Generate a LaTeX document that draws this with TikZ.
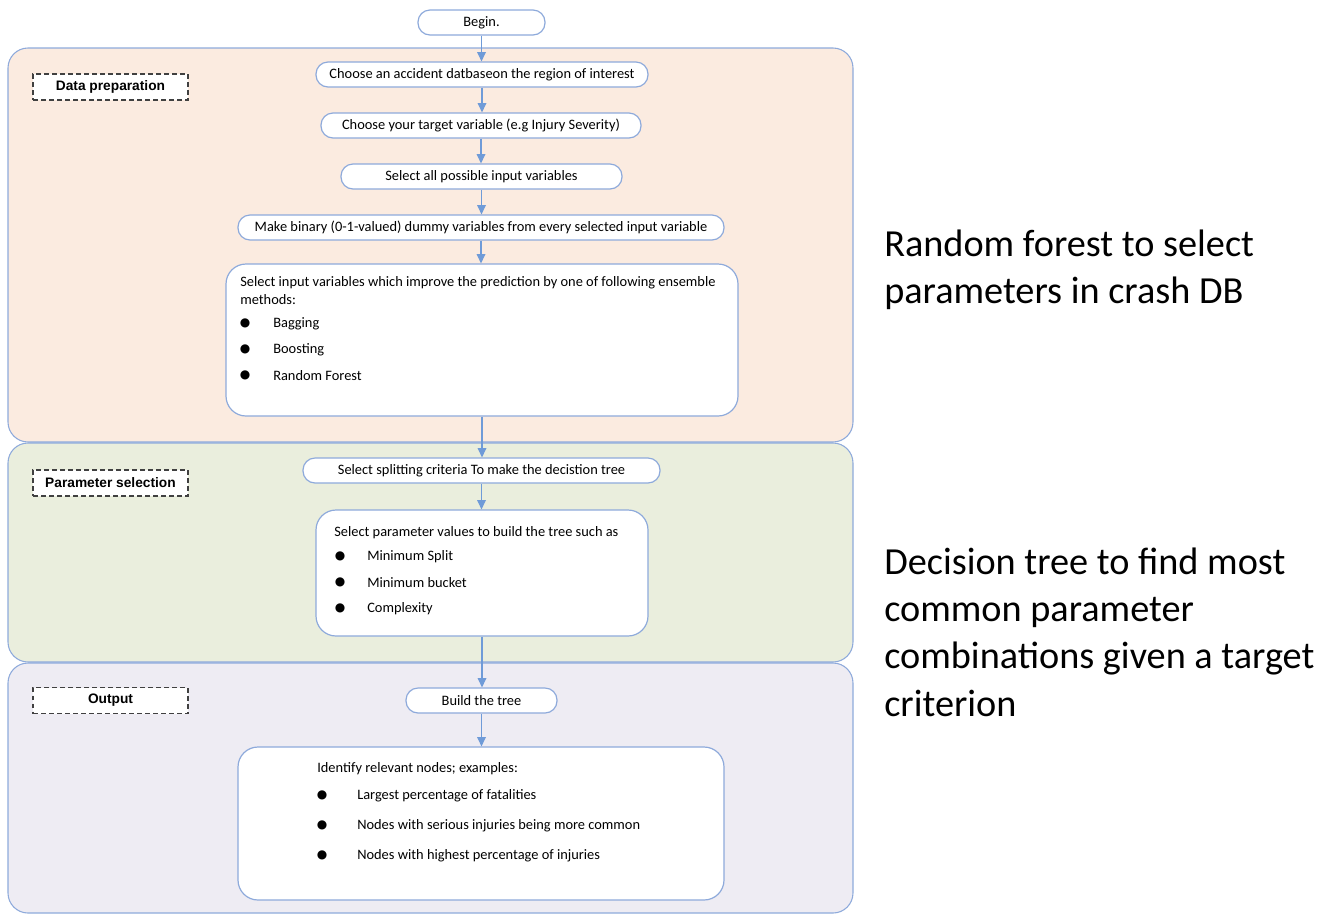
\documentclass[tikz,border=0pt]{standalone}
\usepackage{fontspec}
\setmainfont{Carlito}
\newfontfamily\labelfont{Liberation Sans}
\newfontfamily\symfont{DejaVu Sans}
\usetikzlibrary{arrows.meta}

\definecolor{edgeblue}{HTML}{8EAADB}
\definecolor{arrowblue}{HTML}{6F9BD8}
\definecolor{peach}{HTML}{FBEBE0}
\definecolor{sage}{HTML}{EAEEDD}
\definecolor{lavender}{HTML}{EEECF3}

\newcommand\dotmark{{\symfont\fontsize{9}{9}\selectfont ●}}

\tikzset{
  section/.style={draw=edgeblue, line width=0.8pt, rounded corners=15pt},
  pill/.style={draw=edgeblue, fill=white, line width=0.9pt, rounded corners=9pt,
    inner sep=0pt, minimum height=18.75pt, font=\fontsize{10.8}{12}\selectfont},
  bigbox/.style={draw=edgeblue, fill=white, line width=0.9pt, rounded corners=15pt,
    inner sep=0pt},
  phase/.style={draw=black!75, dashed, dash pattern=on 3.6pt off 2.4pt, fill=white,
    line width=0.8pt, inner sep=0pt, minimum width=116.25pt, minimum height=19.5pt,
    font=\labelfont\bfseries\fontsize{10.3}{12}\selectfont},
  line/.style={anchor=west, inner sep=0pt, font=\fontsize{10.8}{12}\selectfont},
  bullet/.style={anchor=center, inner sep=0pt},
  flow/.style={draw=arrowblue, line width=0.9pt, -{Triangle[width=6.5pt,length=7pt]}},
  remark/.style={anchor=west, align=left, inner sep=0pt,
    font=\fontsize{28.7}{35.3}\selectfont}
}

\begin{document}
\begin{tikzpicture}[x=0.75pt,y=-0.75pt]
\useasboundingbox (0,0) rectangle (1335,915);

% three phase panels
\draw[section, fill=peach] (8,48) rectangle (853,442);
\draw[section, fill=sage] (8,443) rectangle (853,662);
\draw[section, fill=lavender] (8,663) rectangle (853,913);

% phase titles
\node[phase] (lblprep) at (110.5,87) {Data preparation};
\node[phase] (lblparam) at (110.5,483) {Parameter selection};
\node[phase] (lblout) at (110.5,700.5) {Output};

% start
\node[pill, minimum width=95.25pt] (begin) at (481.5,22.5) {Begin.};

% data preparation steps
\node[pill, minimum width=249pt] (db) at (482,74.5) {Choose an accident datbaseon the region of interest};
\node[pill, minimum width=240pt] (target) at (481,125.5) {Choose your target variable (e.g Injury Severity)};
\node[pill, minimum width=210.75pt] (inputs) at (481.5,176.5) {Select all possible input variables};
\node[pill, minimum width=364.5pt] (dummy) at (481,227.5) {Make binary (0-1-valued) dummy variables from every selected input variable};
\node[bigbox, minimum width=384pt, minimum height=114pt] (ensemble) at (482,340) {};
\node[line] (ensA) at (240,283) {Select input variables which improve the prediction by one of following ensemble};
\node[line] (ensB) at (240,300) {methods:};
\node[bullet] (ensb1) at (245,323) {\dotmark};
\node[line] (ens1) at (273,324) {Bagging};
\node[bullet] (ensb2) at (245,349) {\dotmark};
\node[line] (ens2) at (273,350) {Boosting};
\node[bullet] (ensb3) at (245,375) {\dotmark};
\node[line] (ens3) at (273,376) {Random Forest};

% parameter selection steps
\node[pill, minimum width=267.75pt] (split) at (481.5,470.5) {Select splitting criteria To make the decistion tree};
\node[bigbox, minimum width=249pt, minimum height=94.5pt] (params) at (482,573) {};
\node[line] (parA) at (334,533) {Select parameter values to build the tree such as};
\node[bullet] (parb1) at (340,556) {\dotmark};
\node[line] (par1) at (367,557) {Minimum Split};
\node[bullet] (parb2) at (340,582) {\dotmark};
\node[line] (par2) at (367,583) {Minimum bucket};
\node[bullet] (parb3) at (340,608) {\dotmark};
\node[line] (par3) at (367,609) {Complexity};

% output steps
\node[pill, minimum width=113.25pt] (build) at (481.5,700.5) {Build the tree};
\node[bigbox, minimum width=364.5pt, minimum height=114.75pt] (nodes) at (481,823.5) {};
\node[line] (outA) at (317,769) {Identify relevant nodes; examples:};
\node[bullet] (outb1) at (322,795) {\dotmark};
\node[line] (out1) at (357,796) {Largest percentage of fatalities};
\node[bullet] (outb2) at (322,825) {\dotmark};
\node[line] (out2) at (357,826) {Nodes with serious injuries being more common};
\node[bullet] (outb3) at (322,855) {\dotmark};
\node[line] (out3) at (357,856) {Nodes with highest percentage of injuries};

% connectors
\draw[flow] (begin.south) -- (begin.south |- db.north);
\draw[flow] (db.south) -- (db.south |- target.north);
\draw[flow] (target.south) -- (target.south |- inputs.north);
\draw[flow] (inputs.south) -- (inputs.south |- dummy.north);
\draw[flow] (dummy.south) -- (dummy.south |- ensemble.north);
\draw[flow] (ensemble.south) -- (ensemble.south |- split.north);
\draw[flow] (split.south) -- (split.south |- params.north);
\draw[flow] (params.south) -- (params.south |- build.north);
\draw[flow] (build.south) -- (build.south |- nodes.north);

% side remarks
\node[remark, anchor=north west] (rf) at (884,230) {Random forest to select\\parameters in crash DB};
\node[remark, anchor=north west] (dt) at (884,548) {Decision tree to find most\\common parameter\\combinations given a target\\criterion};
\end{tikzpicture}
\end{document}
